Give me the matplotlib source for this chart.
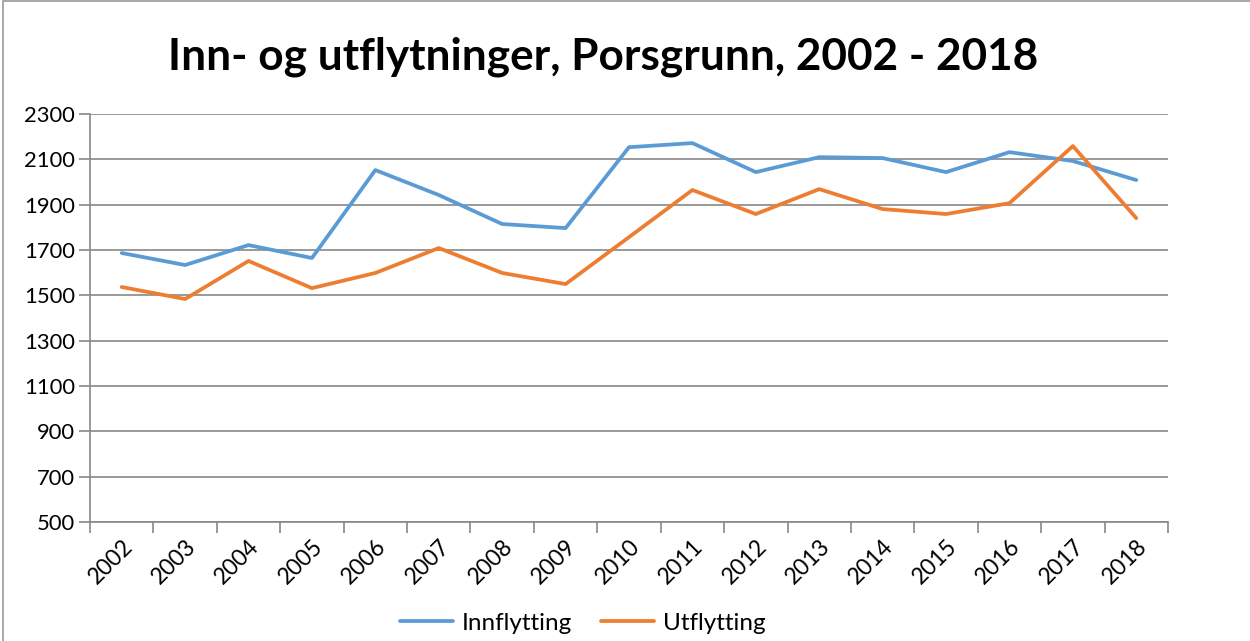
import matplotlib.pyplot as plt
from matplotlib.patches import Rectangle

years = [str(y) for y in range(2002, 2019)]
innflytting = [1687, 1634, 1722, 1665, 2053, 1943, 1815, 1797, 2154, 2172,
               2044, 2110, 2106, 2044, 2132, 2093, 2009]
utflytting = [1537, 1484, 1652, 1532, 1599, 1709, 1599, 1550, 1757, 1965,
              1859, 1969, 1881, 1859, 1907, 2159, 1841]
y_ticks = list(range(500, 2301, 200))

plt.rcParams['font.family'] = ['Lato', 'DejaVu Sans']

fig = plt.figure(figsize=(12.5, 6.41), dpi=100)
ax = fig.add_axes([0.072, 0.1856, 0.8624, 0.6364])

x = list(range(len(years)))
ax.plot(x, innflytting, color='#5B9BD5', linewidth=2.7, label='Innflytting',
        solid_capstyle='round')
ax.plot(x, utflytting, color='#ED7D31', linewidth=2.7, label='Utflytting',
        solid_capstyle='round')

ax.set_xlim(-0.5, len(years) - 0.5)
ax.set_ylim(500, 2300)
ax.set_yticks(y_ticks)
ax.set_yticklabels([str(t) for t in y_ticks], fontsize=15.8)
ax.grid(axis='y', color='#878787', linewidth=1.2)
ax.set_axisbelow(True)

# category labels at centres, tick marks at boundaries
ax.set_xticks([i - 0.5 for i in range(len(years) + 1)])
ax.set_xticklabels([])
ax.set_xticks(x, minor=True)
ax.set_xticklabels(years, minor=True, rotation=45, ha='right',
                   rotation_mode='anchor', fontsize=16.5)
ax.tick_params(axis='x', which='minor', length=0, pad=10)
ax.tick_params(axis='x', which='major', length=8, color='#878787', width=1.2)
ax.tick_params(axis='y', length=8, color='#878787', width=1.2, pad=3)

for side in ['top', 'right']:
    ax.spines[side].set_visible(False)
for side in ['left', 'bottom']:
    ax.spines[side].set_color('#878787')
    ax.spines[side].set_linewidth(1.2)

fig.text(0.4824, 0.912, 'Inn- og utflytninger, Porsgrunn, 2002 - 2018',
         ha='center', va='center', fontsize=31.8, fontweight='bold')

fig.legend(loc='center', bbox_to_anchor=(0.466, 0.028), ncol=2, frameon=False,
           fontsize=17.5, handlelength=2.2, columnspacing=1.2, handletextpad=0.35)

fig.patches.append(Rectangle((0.0025, -0.01), 1.1, 1.008, transform=fig.transFigure,
                             fill=False, edgecolor='#9a9a9a', linewidth=1.2))

fig.savefig('out.png', dpi=100)
